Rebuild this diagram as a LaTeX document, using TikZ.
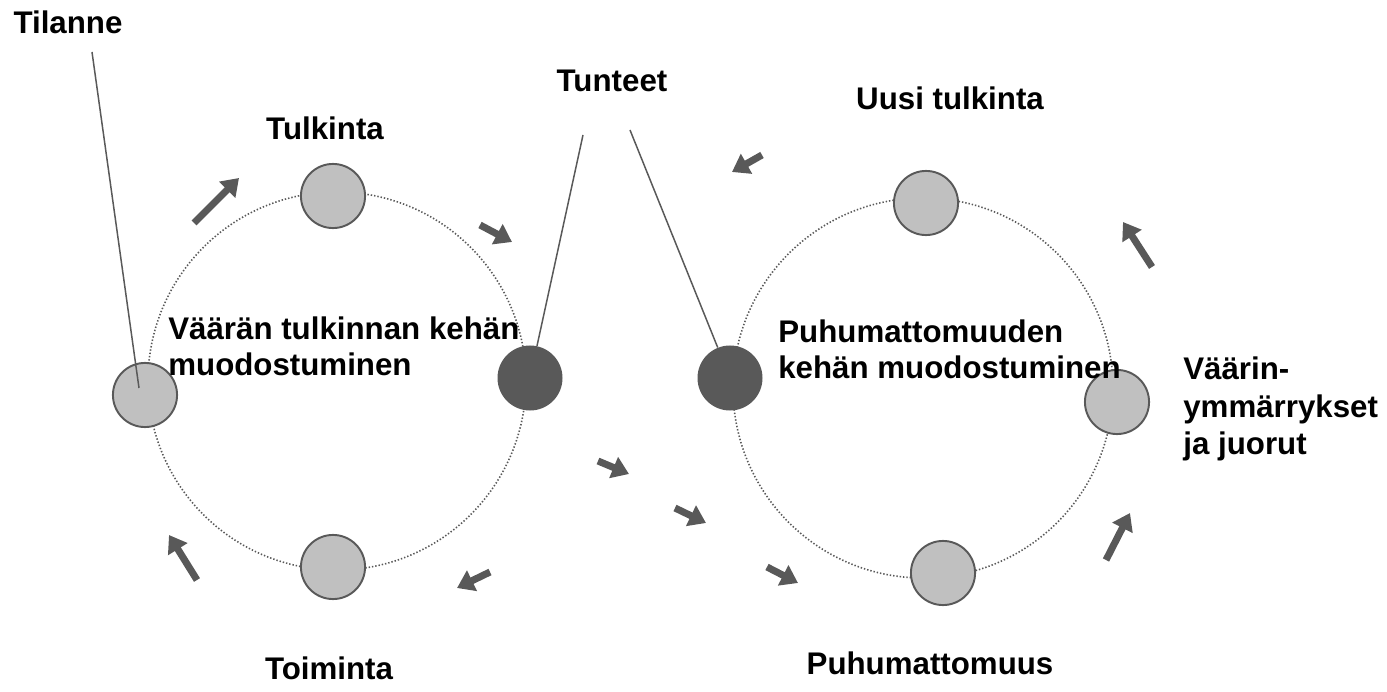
\documentclass[tikz,border=0pt]{standalone}
\usepackage{fontspec}
\setmainfont{Liberation Sans}
\usetikzlibrary{arrows.meta}
\definecolor{darkgrey}{HTML}{595959}
\definecolor{lightgrey}{HTML}{C0C0C0}

\begin{document}
\begin{tikzpicture}[x=0.02cm, y=-0.02cm, font=\fontsize{17.8}{20.5}\selectfont\bfseries]
                  \tikzstyle{ring}=[draw=darkgrey, line width=0.9pt, dash pattern=on 0.8pt off 1.1pt]
                  \tikzstyle{phase}=[circle, draw=darkgrey, line width=1.1pt, fill=lightgrey, minimum size=36.5pt, inner sep=0pt]
                  \tikzstyle{feel}=[circle, fill=darkgrey, minimum size=37pt, inner sep=0pt]
                  \tikzstyle{lbl}=[inner sep=0pt]
                  \tikzstyle{pointer}=[draw=darkgrey, line width=0.85pt]
                  \tikzstyle{flow}=[draw=darkgrey, line width=4pt, -{Triangle[length=9.5pt, width=12.5pt]}]

                  \useasboundingbox (0,0) rectangle (1387,692);

                  % the two loops
                  \draw[ring] (337,381) circle (189);
                  \draw[ring] (923,388) circle (190);

                  \node[phase] (tilanne) at (145,395) {};
                  \node[phase] (tulkinta) at (333,196) {};
                  \node[feel]  (tunteetL) at (530,378) {};
                  \node[phase] (toiminta) at (333,567) {};

                  \node[feel]  (tunteetR) at (730,378) {};
                  \node[phase] (uusi) at (926,203) {};
                  \node[phase] (juorut) at (1117,402) {};
                  \node[phase] (puhumattomuus) at (943,573) {};

                  % labels
                  \node[lbl] (tilanneTxt) at (68,22) {Tilanne};
                  \node[lbl] (tulkintaTxt) at (325,128) {Tulkinta};
                  \node[lbl] (tunteetTxt) at (612,81) {Tunteet};
                  \node[lbl] (uusiTxt) at (950,98) {Uusi tulkinta};
                  \node[lbl] (toimintaTxt) at (329,668) {Toiminta};
                  \node[lbl] (puhumattomuusTxt) at (930,663) {Puhumattomuus};
                  \node[lbl, anchor=base west, align=left] (kehaL) at (168,376) {Väärän tulkinnan kehän\\muodostuminen};
                  \node[lbl, anchor=base west, align=left] (kehaR) at (778,379) {Puhumattomuuden\\kehän muodostuminen};
                  \node[lbl, anchor=base west, align=left, font=\fontsize{17.8}{21.5}\selectfont\bfseries] (juorutTxt) at (1183,455) {Väärin-\\ymmärrykset\\ja juorut};

                  % pointer lines
                  \coordinate (tilanneTop) at (92,52);
                  \coordinate (tilanneEnd) at (139,388);
                  \coordinate (tunteetA) at (583,135);
                  \coordinate (tunteetB) at (630,130);
                  \draw[pointer] (tilanneTop) -- (tilanneEnd);
                  \draw[pointer] (tunteetA) -- (tunteetL);
                  \draw[pointer] (tunteetB) -- (tunteetR);

                  % flow arrows
                  \foreach \xa/\ya/\xb/\yb [count=\i] in {194/223/239/178, 480/225/512/242, 490/572/457/588, 197/580/169/535,
                                     762/155/732/172, 1152/267/1123/222, 598/461/629/474, 675/508/706/523,
                                     767/567/798/583, 1106/560/1130/513}
                  {
                    \coordinate (from\i) at (\xa,\ya);
                    \coordinate (to\i) at (\xb,\yb);
                    \draw[flow] (from\i) -- (to\i);
                  }
\end{tikzpicture}
\end{document}
